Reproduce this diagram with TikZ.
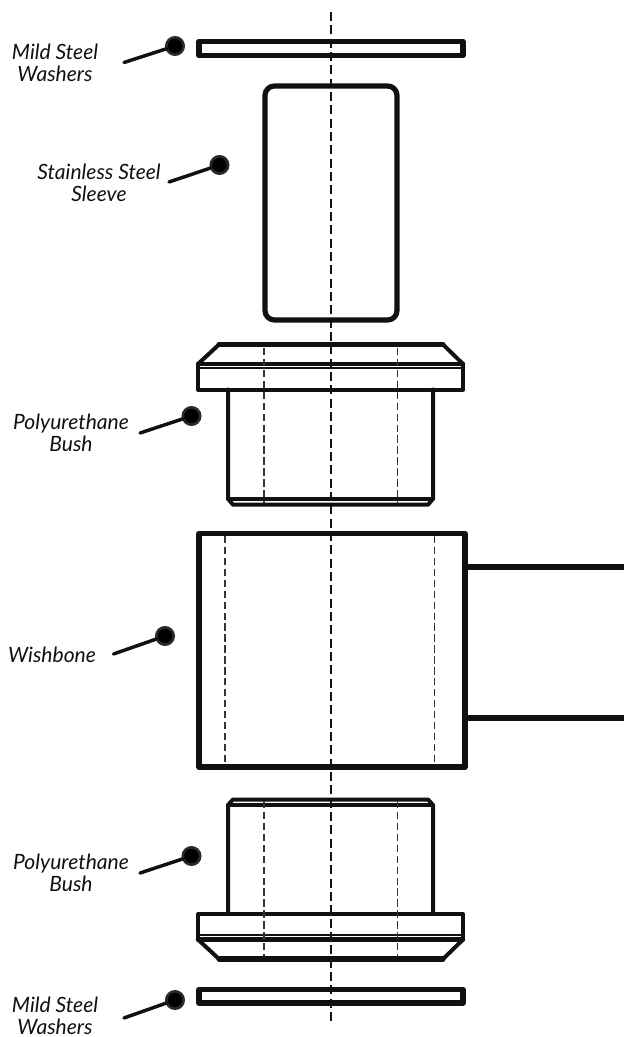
\documentclass[tikz,border=0pt]{standalone}
\usepackage{fontspec}
\setmainfont{Lato}
\definecolor{ink}{HTML}{111111}
\tikzset{
  part/.style={draw=ink,line width=3.9pt,line join=round},
  body/.style={draw=ink,line width=3pt,line join=round,line cap=round},
  thin part/.style={draw=ink,line width=2.2pt,line join=round},
  hidden/.style={draw=ink!85,line width=1pt,dash pattern=on 5.5pt off 2.7pt},
  axis/.style={draw=ink,line width=1.1pt,dash pattern=on 6.8pt off 3.2pt},
  dot/.style={circle,fill=black,draw=ink!90,line width=2pt,minimum size=13pt,inner sep=0pt,outer sep=0pt},
  leader/.style={draw=ink,line width=2.6pt,line cap=round},
  lbl/.style={font=\fontsize{15.8}{16.5}\selectfont\itshape,align=center,inner sep=0pt,text=ink}
}
\begin{document}
\begin{tikzpicture}[x=0.75pt,y=-0.75pt]
\useasboundingbox (0,0) rectangle (624,1037);
\fill[white] (0,0) rectangle (624,1037);
% washers
\draw[part,line width=4.2pt] (199,41.5) rectangle (463,55.5);
\draw[part,line width=4.2pt] (199,989.5) rectangle (463,1003);
% sleeve
\draw[part,rounded corners=7pt] (265,86) rectangle (397,320);
% upper bush
\draw[thin part,line width=2pt] (198,368) -- (463,368);
\draw[body] (198,364) -- (198,389.5) -- (463,389.5) -- (463,364);
\draw[body,line width=3.2pt] (198,364) -- (463,364);
\draw[body] (198,364) -- (219,344.5);
\draw[body] (443,344.5) -- (463,364);
\draw[part,line cap=round] (219,344.5) -- (443,344.5);
\draw[body] (228,389.5) -- (228,498.8) -- (233,504.7) -- (428,504.7) -- (433,498.8) -- (433,389.5);
\draw[body] (228,498.8) -- (433,498.8);
% wishbone
\draw[part,line width=4.2pt] (199,533.5) rectangle (465,767);
\draw[part,line width=4.2pt] (465,567) -- (624,567);
\draw[part,line width=4.2pt] (465,718) -- (624,718);
% lower bush
\draw[body] (228,914) -- (228,805) -- (233,799.5) -- (428,799.5) -- (433,805) -- (433,914);
\draw[body,line width=2.5pt] (228,805) -- (433,805);
\draw[body] (198,939.5) -- (198,914) -- (463,914) -- (463,939.5);
\draw[thin part,line width=1.5pt] (198,935.2) -- (463,935.2);
\draw[body,line width=3.2pt] (198,939.5) -- (463,939.5);
\draw[body] (198,939.5) -- (219,959);
\draw[body] (443,959) -- (463,939.5);
\draw[part,line cap=round] (219,959) -- (443,959);
% hidden lines
\draw[hidden] (264,348) -- (264,503);
\draw[hidden] (397.5,348) -- (397.5,503);
\draw[hidden] (225,536) -- (225,765);
\draw[hidden] (434.5,536) -- (434.5,765);
\draw[hidden] (264,801) -- (264,956);
\draw[hidden] (397.5,801) -- (397.5,956);
% axis
\coordinate (axt) at (331,12);
\coordinate (axb) at (331,1021);
\draw[axis] (axt) -- (axb);
% leaders
\foreach \n/\dx/\dy/\ex/\ey in {a/175/46/124/62.5,b/219.5/165/169/182,c/191.5/416/140/433,d/165/636/113.5/654,e/191.5/856/140/873,f/175/1000/124/1018}{
  \coordinate (end\n) at (\ex,\ey);
  \node[dot] (dot\n) at (\dx,\dy) {};
  \draw[leader] (dot\n) -- (end\n);
}
% labels
\node[lbl] (la) at (55,63) {Mild Steel\\Washers};
\node[lbl] (lb) at (99,183) {Stainless Steel\\Sleeve};
\node[lbl] (lc) at (71,433) {Polyurethane\\Bush};
\node[lbl] (ld) at (52,655) {Wishbone};
\node[lbl] (le) at (71,873) {Polyurethane\\Bush};
\node[lbl] (lf) at (55,1015.5) {Mild Steel\\Washers};
\end{tikzpicture}
\end{document}
